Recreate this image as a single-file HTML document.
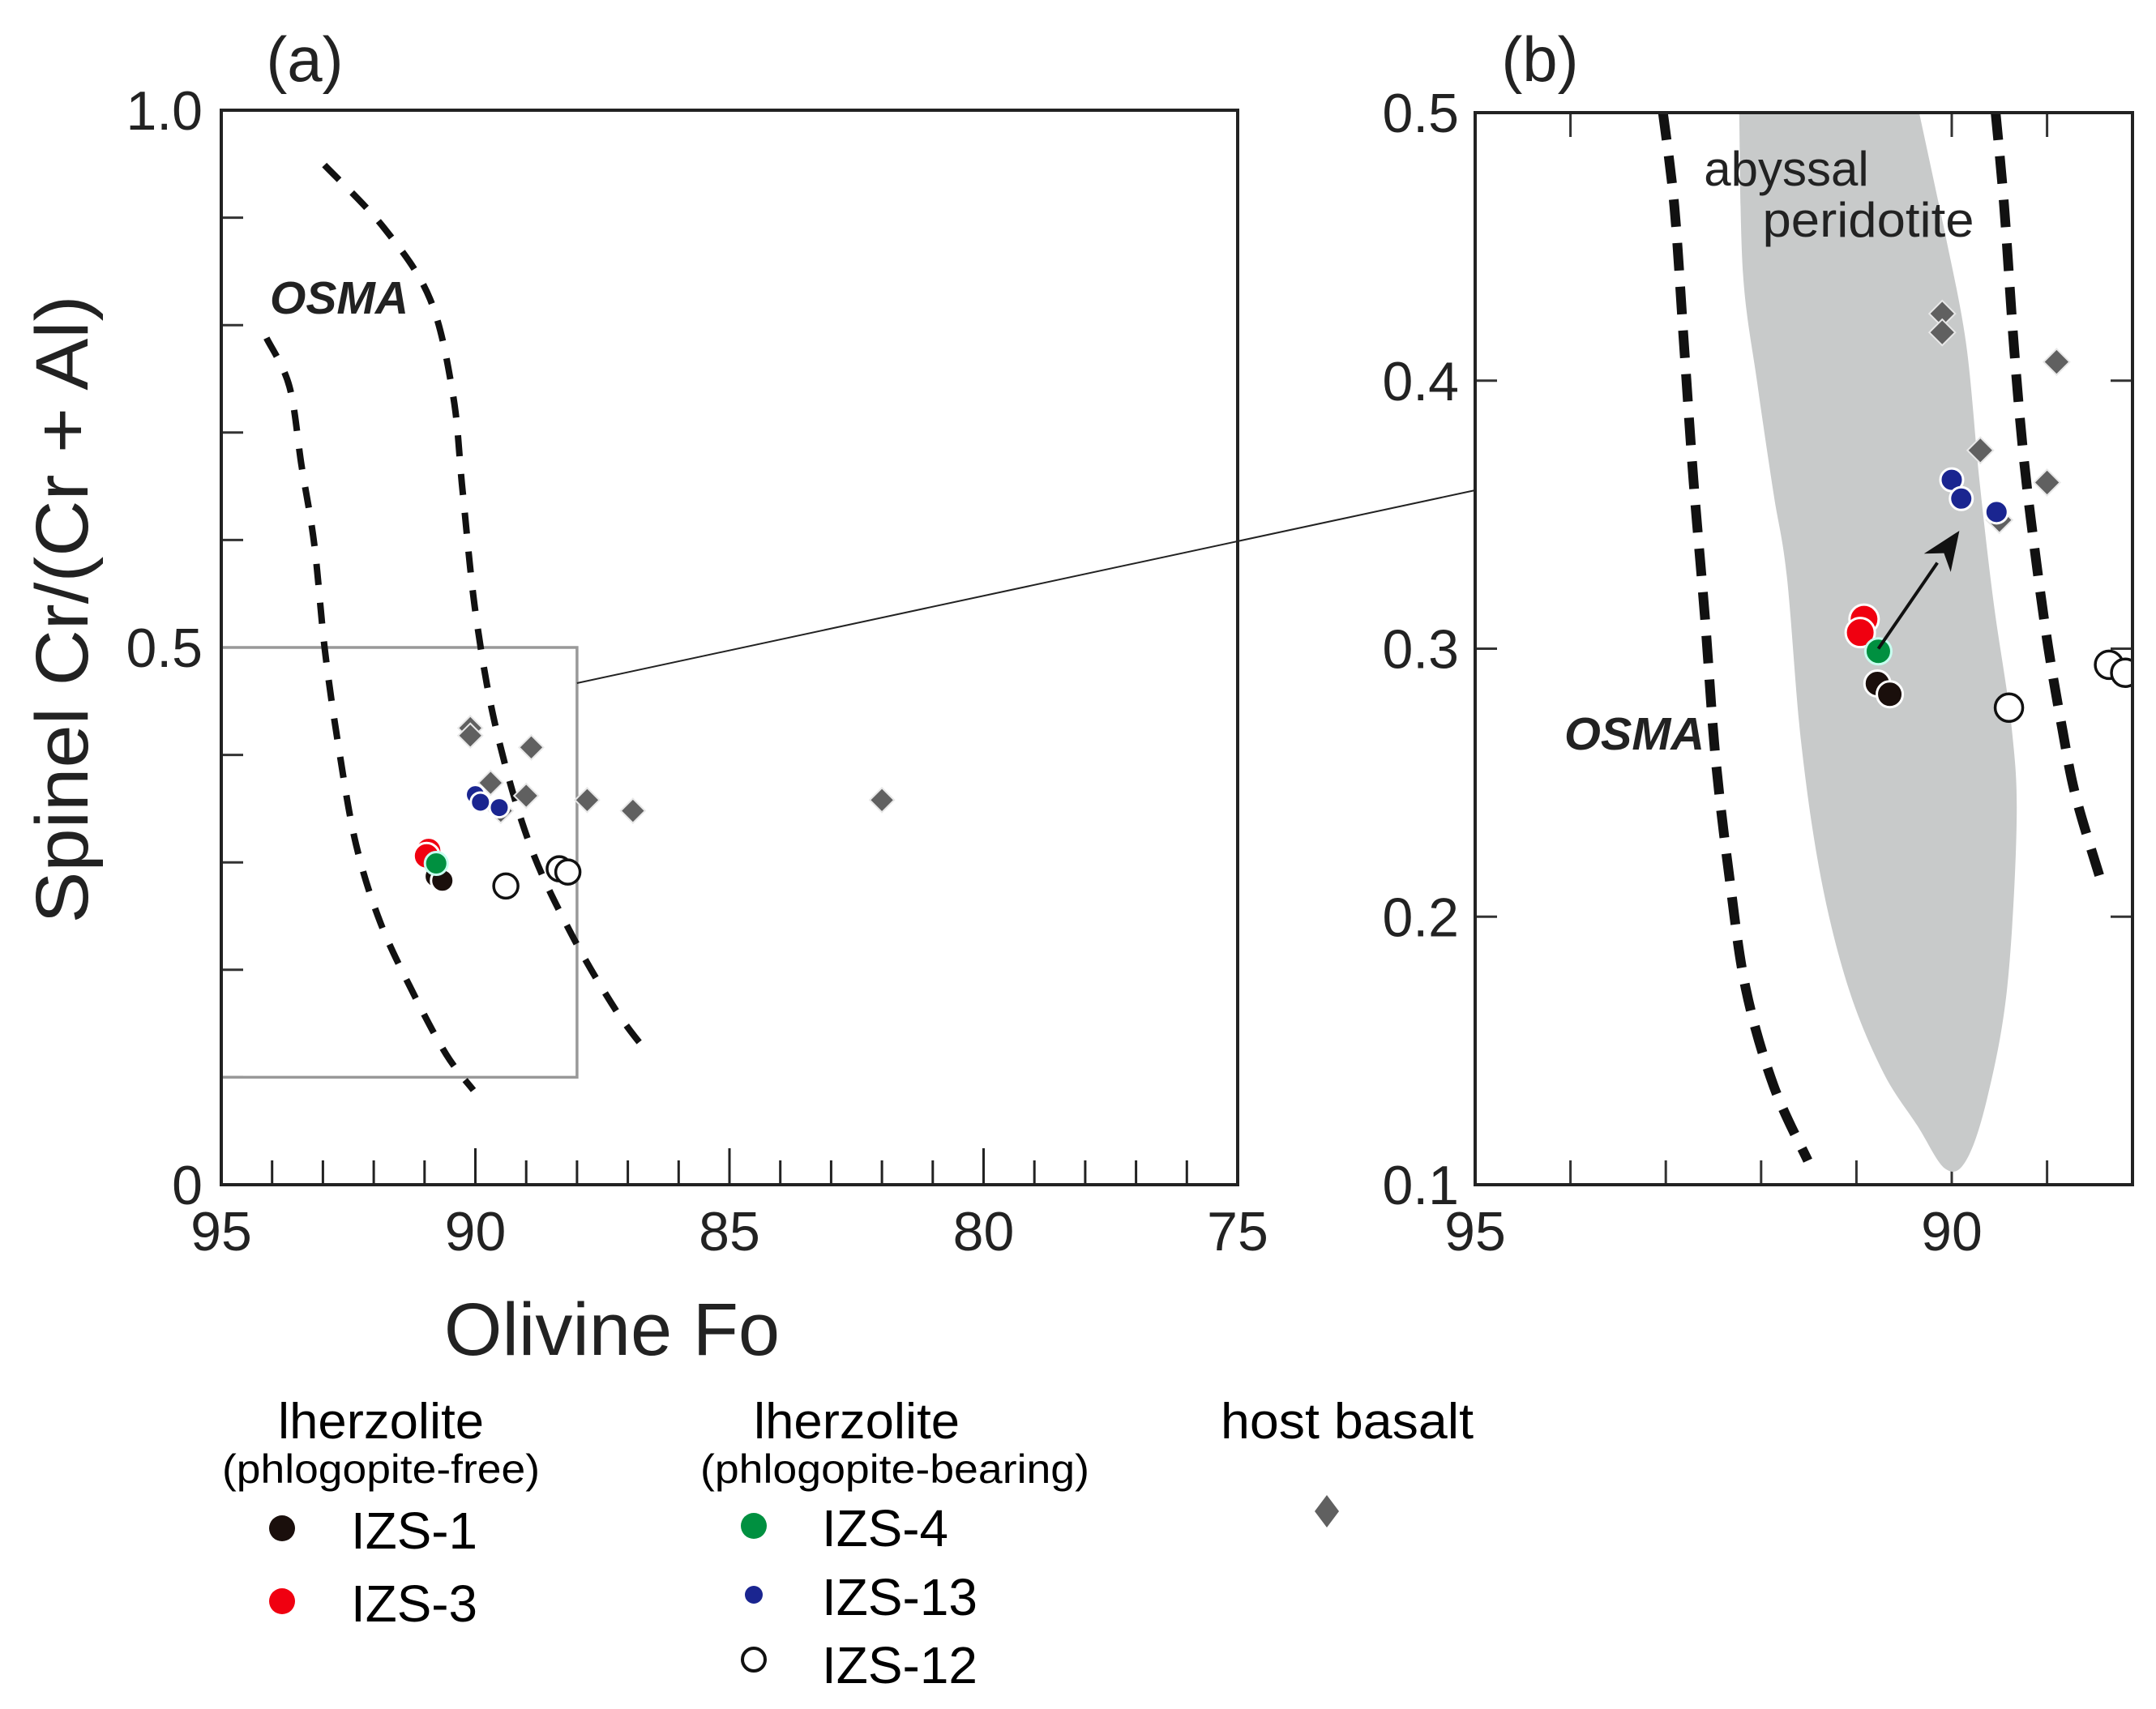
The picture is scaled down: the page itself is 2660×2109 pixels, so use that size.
<!DOCTYPE html>
<html><head><meta charset="utf-8"><style>
html,body{margin:0;padding:0;background:#fff;}
svg{display:block;font-family:"Liberation Sans",Arial,sans-serif;}
</style></head><body>
<svg id="chart" width="2660" height="2109" viewBox="0 0 2660 2109" xmlns="http://www.w3.org/2000/svg">
<defs><clipPath id="clipB"><rect x="1820" y="139" width="811" height="1323"/></clipPath></defs>
<g id="gA"></g>
<g id="gB"></g>
<g id="legend">
  <text x="470" y="1775" font-size="62" text-anchor="middle" textLength="254" lengthAdjust="spacingAndGlyphs">lherzolite</text>
  <text x="470" y="1830" font-size="50" text-anchor="middle" textLength="392" lengthAdjust="spacingAndGlyphs">(phlogopite-free)</text>
  <circle cx="348" cy="1886" r="16" fill="#1a0f0c"/>
  <text x="433" y="1911" font-size="64" textLength="156" lengthAdjust="spacingAndGlyphs">IZS-1</text>
  <circle cx="348" cy="1976" r="16" fill="#f00010"/>
  <text x="433" y="2001" font-size="64" textLength="156" lengthAdjust="spacingAndGlyphs">IZS-3</text>
  <text x="1057" y="1775" font-size="62" text-anchor="middle" textLength="254" lengthAdjust="spacingAndGlyphs">lherzolite</text>
  <text x="1104" y="1830" font-size="50" text-anchor="middle" textLength="480" lengthAdjust="spacingAndGlyphs">(phlogopite-bearing)</text>
  <circle cx="930" cy="1883" r="16" fill="#009040"/>
  <text x="1014" y="1908" font-size="64" textLength="156" lengthAdjust="spacingAndGlyphs">IZS-4</text>
  <circle cx="930" cy="1968" r="11" fill="#1a2590"/>
  <text x="1014" y="1993" font-size="64" textLength="192" lengthAdjust="spacingAndGlyphs">IZS-13</text>
  <circle cx="930" cy="2048" r="14" fill="#fff" stroke="#111" stroke-width="4"/>
  <text x="1014" y="2077" font-size="64" textLength="192" lengthAdjust="spacingAndGlyphs">IZS-12</text>
  <text x="1662" y="1775" font-size="62" text-anchor="middle" textLength="312" lengthAdjust="spacingAndGlyphs">host basalt</text>
  <path d="M1637,1845 L1652,1865 L1637,1885 L1622,1865 Z" fill="#606060"/>
</g>
</svg>
<script>
// data
const hostFo = [90.1, 90.1, 88.9, 89.7, 89.0, 87.8, 86.9, 82.0, 89.5];
const hostCr = [0.425, 0.418, 0.407, 0.374, 0.362, 0.358, 0.348, 0.358, 0.348];
const izs1Fo = [90.78, 90.65]; const izs1Cr = [0.287, 0.283];
const izs3Fo = [90.92, 90.96]; const izs3Cr = [0.311, 0.306];
const izs4Fo = [90.77]; const izs4Cr = [0.299];
const izs13Fo = [90.0, 89.9, 89.53]; const izs13Cr = [0.363, 0.356, 0.351];
const izs12Fo = [89.40, 88.35, 88.18]; const izs12Cr = [0.278, 0.294, 0.291];
const osmaA1Fo = [94.11, 93.66, 93.42, 93.17, 92.96, 92.69, 92.35, 91.87, 91.22, 90.57, 90.04];
const osmaA1Cr = [0.788, 0.743, 0.669, 0.596, 0.497, 0.407, 0.317, 0.244, 0.178, 0.121, 0.088];
const osmaA2Fo = [92.97, 91.79, 90.89, 90.44, 90.25, 89.99, 89.59, 88.94, 88.13, 87.23, 86.58];
const osmaA2Cr = [0.949, 0.890, 0.824, 0.735, 0.645, 0.530, 0.424, 0.318, 0.235, 0.162, 0.121];
const osmaB1Fo = [93.03, 92.91, 92.81, 92.71, 92.59, 92.48, 92.33, 92.16, 91.87, 91.51];
const osmaB1Cr = [0.500, 0.465, 0.414, 0.363, 0.312, 0.260, 0.214, 0.173, 0.137, 0.109];
const osmaB2Fo = [89.54, 89.45, 89.35, 89.25, 89.13, 88.99, 88.84, 88.70, 88.44];
const osmaB2Cr = [0.500, 0.465, 0.414, 0.373, 0.337, 0.301, 0.270, 0.245, 0.214];
const abyssFo = [92.23, 92.19, 92.04, 91.87, 91.73, 91.58, 91.37, 91.08, 90.72, 90.36, 90.07, 89.85, 89.63, 89.42, 89.32, 89.37, 89.56, 89.71, 89.85, 90.07, 90.36];
const abyssCr = [0.500, 0.440, 0.399, 0.358, 0.327, 0.265, 0.214, 0.173, 0.142, 0.122, 0.106, 0.109, 0.132, 0.173, 0.234, 0.270, 0.317, 0.363, 0.414, 0.455, 0.500];
const arrowFo = [90.77, 89.92]; const arrowCr = [0.300, 0.344];
const aXTicks = ["95","90","85","80","75"];
const aYTicks = ["0","0.5","1.0"];
const bXTicks = ["95","90"];
const bYTicks = ["0.1","0.2","0.3","0.4","0.5"];

const NS = "http://www.w3.org/2000/svg";
function mk(parent, tag, attrs){ const e=document.createElementNS(NS,tag); for(const k in attrs) e.setAttribute(k,attrs[k]); parent.appendChild(e); return e; }
const gA=document.getElementById('gA'), gB=document.getElementById('gB');
const ax={x:(v)=>273+(95-v)*62.7, y:(v)=>1462-v*1326};
const bx={x:(v)=>1820+(95-v)*117.6, y:(v)=>1462-(v-0.1)*3307.5};
function smoothPath(A,fo,cr,closed){
  const p=fo.map((f,i)=>[A.x(f),A.y(cr[i])]); const n=p.length;
  let d='M'+p[0][0]+','+p[0][1];
  const last = closed? n : n-1;
  for(let i=0;i<last;i++){
    const p0=p[closed?(i-1+n)%n:Math.max(i-1,0)], p1=p[i], p2=p[(i+1)%n], p3=p[closed?(i+2)%n:Math.min(i+2,n-1)];
    const c1=[p1[0]+(p2[0]-p0[0])/6,p1[1]+(p2[1]-p0[1])/6], c2=[p2[0]-(p3[0]-p1[0])/6,p2[1]-(p3[1]-p1[1])/6];
    d+=` C${c1[0]},${c1[1]} ${c2[0]},${c2[1]} ${p2[0]},${p2[1]}`;
  }
  return d+(closed?'Z':'');
}
function diamond(g,A,f,c,s){ const x=A.x(f),y=A.y(c);
  const e=mk(g,'path',{d:`M${x},${y-s} L${x+s},${y} L${x},${y+s} L${x-s},${y} Z`,fill:'#606060',stroke:'#e8e8e8','stroke-width':2});
  
   }
function dot(g,A,f,c,r,fill,stroke,sw,name){
  const e=mk(g,'circle',{cx:A.x(f),cy:A.y(c),r:r,fill:fill,stroke:stroke,'stroke-width':sw});
  
   }
function points(g,A,sd,sc){
  hostFo.forEach((f,i)=>diamond(g,A,f,hostCr[i],sd));
  izs3Fo.forEach((f,i)=>dot(g,A,f,izs3Cr[i],sc+2,'#f00010','#fff',3,'izs3-point'));
  izs1Fo.forEach((f,i)=>dot(g,A,f,izs1Cr[i],sc,'#1a0f0c','#fff',3,'izs1-point'));
  izs4Fo.forEach((f,i)=>dot(g,A,f,izs4Cr[i],sc,'#009040','#c8fff0',3,'izs4-point'));
  izs13Fo.forEach((f,i)=>dot(g,A,f,izs13Cr[i],sc-2,'#1a2590','#fff',3,'izs13-point'));
  izs12Fo.forEach((f,i)=>dot(g,A,f,izs12Cr[i],sc+1,'#fff','#111',3.5,'izs12-point'));
}
let e;
for(let v=94;v>=76;v--){ e=mk(gA,'line',{x1:ax.x(v),x2:ax.x(v),y1:1462,y2:1462-(v%5==0?45:30),stroke:'#222','stroke-width':3});
    }
for(let i=1;i<=9;i++){ const v=i/10; e=mk(gA,'line',{x1:273,x2:273+(i==5?45:27),y1:ax.y(v),y2:ax.y(v),stroke:'#333','stroke-width':3});
    }
e=mk(gA,'rect',{x:273,y:ax.y(0.5),width:ax.x(88)-273,height:ax.y(0.1)-ax.y(0.5),fill:'none',stroke:'#999','stroke-width':3.5});
 
e=mk(gA,'line',{x1:ax.x(88),y1:843,x2:1820,y2:605,stroke:'#222','stroke-width':2});
 
[[osmaA1Fo,osmaA1Cr],[osmaA2Fo,osmaA2Cr]].forEach(c=>{ e=mk(gA,'path',{d:smoothPath(ax,c[0],c[1],false),fill:'none',stroke:'#111','stroke-width':8,'stroke-dasharray':'26 22'});
    });
e=mk(gA,'text',{x:333,y:387,'font-size':57,'font-weight':'bold','font-style':'italic',fill:'#222'}); e.textContent='OSMA';
 
points(gA,ax,15,14);
e=mk(gA,'rect',{x:273,y:136,width:1254,height:1326,fill:'none',stroke:'#222','stroke-width':4});
 
aXTicks.forEach(t=>{ e=mk(gA,'text',{x:ax.x(+t),y:1543,'font-size':68,'text-anchor':'middle',fill:'#222'}); e.textContent=t;
    });
aYTicks.forEach(t=>{ e=mk(gA,'text',{x:250,y:ax.y(+t)+24,'font-size':68,'text-anchor':'end',fill:'#222'}); e.textContent=t;
    });
e=mk(gA,'text',{x:755,y:1672,'font-size':92,'text-anchor':'middle',fill:'#222'}); e.textContent='Olivine Fo';
 
e=mk(gA,'text',{x:0,y:0,'font-size':92,'text-anchor':'middle',fill:'#222',transform:'translate(108,752) rotate(-90)',textLength:'775',lengthAdjust:'spacingAndGlyphs'}); e.textContent='Spinel Cr/(Cr + Al)';
 
e=mk(gA,'text',{x:376,y:100,'font-size':78,'text-anchor':'middle',fill:'#222'}); e.textContent='(a)';
 
const cb=mk(gB,'g',{'clip-path':'url(#clipB)'});


for(let v=94;v>=89;v--){ [[1462,-30],[139,30]].forEach(s=>{ e=mk(cb,'line',{x1:bx.x(v),x2:bx.x(v),y1:s[0],y2:s[0]+s[1],stroke:'#333','stroke-width':3});
    }); }
[0.2,0.3,0.4].forEach(v=>{ [[1820,27],[2631,-27]].forEach(s=>{ e=mk(cb,'line',{x1:s[0],x2:s[0]+s[1],y1:bx.y(v),y2:bx.y(v),stroke:'#333','stroke-width':3});
    }); });
e=mk(cb,'path',{d:smoothPath(bx,abyssFo.slice(0,-1),abyssCr.slice(0,-1),false)+' L'+bx.x(90.36)+','+(bx.y(0.5)-10)+' L'+bx.x(92.23)+','+(bx.y(0.5)-10)+'Z',fill:'#c8caca'});
 
[[osmaB1Fo,osmaB1Cr],[osmaB2Fo,osmaB2Cr]].forEach(c=>{ e=mk(cb,'path',{d:smoothPath(bx,c[0],c[1],false),fill:'none',stroke:'#111','stroke-width':12,'stroke-dasharray':'34 20'});
    });
points(cb,bx,16,16);
{ const x1=bx.x(arrowFo[0]),y1=bx.y(arrowCr[0]),x2=bx.x(arrowFo[1]),y2=bx.y(arrowCr[1]);
  const a=Math.atan2(y2-y1,x2-x1), L=48, W=20;
  const bxp=x2-L*Math.cos(a), byp=y2-L*Math.sin(a);
  e=mk(gB,'line',{x1:x1,y1:y1,x2:bxp,y2:byp,stroke:'#111','stroke-width':4});
   
  e=mk(gB,'path',{d:`M${x2},${y2} L${bxp-W*Math.sin(a)},${byp+W*Math.cos(a)} L${x2-L*0.7*Math.cos(a)},${y2-L*0.7*Math.sin(a)} L${bxp+W*Math.sin(a)},${byp-W*Math.cos(a)} Z`,fill:'#111'});
    }
e=mk(gB,'rect',{x:1820,y:139,width:811,height:1323,fill:'none',stroke:'#222','stroke-width':4});
 
bXTicks.forEach(t=>{ e=mk(gB,'text',{x:bx.x(+t),y:1543,'font-size':68,'text-anchor':'middle',fill:'#222'}); e.textContent=t;
    });
bYTicks.forEach(t=>{ e=mk(gB,'text',{x:1800,y:bx.y(+t)+24,'font-size':68,'text-anchor':'end',fill:'#222'}); e.textContent=t;
    });
e=mk(gB,'text',{x:2204,y:229,'font-size':60,'text-anchor':'middle',fill:'#222'}); e.textContent='abyssal';
 
e=mk(gB,'text',{x:2305,y:292,'font-size':60,'text-anchor':'middle',fill:'#222',textLength:'261',lengthAdjust:'spacingAndGlyphs'}); e.textContent='peridotite';
 
e=mk(gB,'text',{x:1930,y:925,'font-size':57,'font-weight':'bold','font-style':'italic',fill:'#222',textLength:'173',lengthAdjust:'spacingAndGlyphs'}); e.textContent='OSMA';
 
e=mk(gB,'text',{x:1900,y:100,'font-size':78,'text-anchor':'middle',fill:'#222'}); e.textContent='(b)';
 
</script>
</body></html>
